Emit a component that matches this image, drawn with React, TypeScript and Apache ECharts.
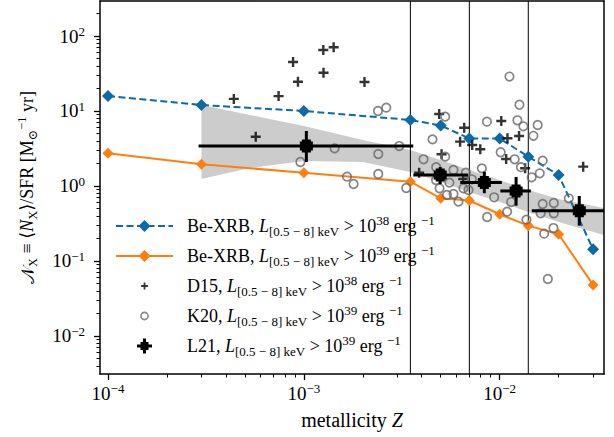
import { useEffect, useRef } from 'react';
import * as echarts from 'echarts';

// ---------- axis ranges & ticks ----------
const X_MIN = 9.1e-5;
const X_MAX = 0.0341;
const Y_MIN = 0.00311;
const Y_MAX = 293;

const majorX = [1e-4, 1e-3, 1e-2];
const minorX = [2e-4, 3e-4, 4e-4, 5e-4, 6e-4, 7e-4, 8e-4, 9e-4, 2e-3, 3e-3, 4e-3, 5e-3, 6e-3, 7e-3, 8e-3, 9e-3, 2e-2, 3e-2];
const majorY = [1e-2, 1e-1, 1, 10, 100];
const minorY = [4e-3, 5e-3, 6e-3, 7e-3, 8e-3, 9e-3, 2e-2, 3e-2, 4e-2, 5e-2, 6e-2, 7e-2, 8e-2, 9e-2, 0.2, 0.3, 0.4, 0.5, 0.6, 0.7, 0.8, 0.9, 2, 3, 4, 5, 6, 7, 8, 9, 20, 30, 40, 50, 60, 70, 80, 90, 200];

// ---------- data ----------
const modelZ = [1e-4, 3e-4, 1e-3, 3.5e-3, 5e-3, 7e-3, 1e-2, 1.4e-2, 2e-2, 3e-2];
const beXrb38 = [15.8, 12.0, 10.0, 7.6, 6.4, 4.3, 4.3, 2.46, 1.4, 0.143];
const beXrb39 = [2.73, 1.95, 1.5, 1.14, 0.685, 0.64, 0.42, 0.296, 0.227, 0.048];

const vlineZ = [0.0035, 0.007, 0.014];

const bandUpperZ = [3e-4, 1e-3, 2e-3, 3.5e-3, 5e-3, 7e-3, 1e-2, 1.4e-2, 2e-2, 0.0341];
const bandUpperN = [12.0, 6.31, 4.11, 3.02, 2.22, 1.63, 1.2, 0.885, 0.671, 0.509];
const bandLowerZ = [3e-4, 5.3e-4, 1e-3, 2e-3, 3.5e-3, 5e-3, 7e-3, 1e-2, 1.4e-2, 2e-2, 0.0341];
const bandLowerN = [1.24, 1.74, 2.15, 2.09, 1.54, 1.13, 0.832, 0.612, 0.45, 0.331, 0.222];

const d15Z = [4.39e-4, 5.68e-4, 7.43e-4, 8.81e-4, 9.33e-4, 1.257e-3, 1.42e-3, 1.26e-3, 2.04e-3, 3.88e-3, 4.91e-3, 5.05e-3, 6.59e-3, 6.28e-3, 7.24e-3, 7.96e-3, 1.019e-2, 1.096e-2, 1.256e-2, 1.079e-2, 1.349e-2, 2.67e-2, 6.51e-3];
const d15N = [14.5, 4.54, 15.8, 45, 24.6, 65, 70.7, 32.4, 24.4, 1.5, 9.12, 2.65, 5.99, 3.9, 3.52, 3.09, 7.36, 4.33, 4.64, 2.29, 1.72, 1.81, 1.24];

const k20Z = [2.391e-3, 2.636e-3, 1.436e-3, 9.6e-4, 2.399e-3, 3.07e-3, 1.661e-3, 1.795e-3, 2.399e-3, 3.334e-3, 1.122e-2, 1.262e-2, 5.27e-3, 8.61e-3, 1.232e-2, 1.322e-2, 1.563e-2, 1.487e-2, 4.54e-3, 4.085e-3, 5.27e-3, 1.012e-2, 1.193e-2, 1.284e-2, 1.658e-2, 1.602e-2, 1.457e-2, 4.74e-3, 4.73e-3, 5.81e-3, 6.72e-3, 8.11e-3, 5.54e-3, 7.21e-3, 5.38e-3, 5.81e-3, 6.16e-3, 6.53e-3, 6.93e-3, 4.93e-3, 9.37e-3, 1.092e-2, 8.63e-3, 1.37e-2, 1.658e-2, 1.89e-2, 1.619e-2, 1.89e-2, 1.687e-2, 1.882e-2, 2.254e-2, 1.762e-2, 1.145e-2];
const k20N = [10.0, 11.07, 3.18, 2.09, 2.67, 3.41, 1.33, 1.063, 1.445, 0.94, 28.8, 12.13, 8.4, 7.2, 7.52, 6.25, 6.51, 4.67, 4.19, 2.27, 2.46, 2.82, 2.27, 1.78, 2.17, 1.476, 1.306, 1.78, 1.2, 1.634, 1.504, 1.72, 1.107, 1.228, 0.759, 0.782, 0.618, 0.931, 0.884, 0.931, 0.707, 0.454, 0.386, 0.355, 0.575, 0.593, 0.4325, 0.4325, 0.231, 0.275, 0.685, 0.0575, 0.612];

const l21Z = [1.03e-3, 4.97e-3, 8.35e-3, 1.213e-2, 2.55e-2];
const l21N = [3.41, 1.4, 1.11, 0.858, 0.469];
const l21ZLo = [2.9e-4, 3.62e-3, 6.29e-3, 1.008e-2, 1.459e-2];
const l21ZHi = [3.62e-3, 6.9e-3, 1.026e-2, 1.443e-2, 0.036];
const l21NLo = [2.09, 1.06, 0.8, 0.546, 0.296];
const l21NHi = [5.41, 1.79, 1.55, 1.32, 0.736];

// ---------- styles ----------
const SERIF = "'Liberation Serif', 'DejaVu Serif', serif";
const BLUE = '#0d6aa8';
const ORANGE = '#ff7f0e';
const GRAY_BAND = '#cccccc';
const CIRCLE_GRAY = '#666666';

const PLUS_SMALL = 'path://M3.8,0H6.2V3.8H10V6.2H6.2V10H3.8V6.2H0V3.8H3.8Z';
const ICON_D15 = 'path://M0,0M15,15M6.6,4.1H8.4V6.6H10.9V8.4H8.4V10.9H6.6V8.4H4.1V6.6H6.6Z';
const ICON_K20 = 'path://M0,0M15,15M3.9,7.5A3.6,3.6,0,1,1,11.1,7.5A3.6,3.6,0,1,1,3.9,7.5Z';
const ICON_L21 = 'path://M6,0H9V3.5H11.5V6H15V9H11.5V11.5H9V15H6V11.5H3.5V9H0V6H3.5V3.5H6Z';

const legendLabels: Record<string, string> = {
  'Be-XRB38': '{g| }{n|Be-XRB, }{i|L}{sb|[0.5 − 8] keV}{n| > 10}{sp|38}{n| erg }{sp|−1}',
  'Be-XRB39': '{g| }{n|Be-XRB, }{i|L}{sb|[0.5 − 8] keV}{n| > 10}{sp|39}{n| erg }{sp|−1}',
  D15: '{g| }{n|D15, }{i|L}{sb|[0.5 − 8] keV}{n| > 10}{sp|38}{n| erg }{sp|−1}',
  K20: '{g| }{n|K20, }{i|L}{sb|[0.5 − 8] keV}{n| > 10}{sp|39}{n| erg }{sp|−1}',
  L21: '{g| }{n|L21, }{i|L}{sb|[0.5 − 8] keV}{n| > 10}{sp|39}{n| erg }{sp|−1}',
};

const tickRich = {
  b: { fontFamily: SERIF, fontSize: 19, lineHeight: 22, color: '#000' },
  s: { fontFamily: SERIF, fontSize: 13, lineHeight: 12, verticalAlign: 'top', color: '#000' },
};

const fmtPow = (v: number) => {
  const e = Math.round(Math.log10(v));
  const s = e < 0 ? '−' + -e : String(e);
  return `{b|10}{s|${s}}`;
};

function buildOption() {
  const axisLineStyle = { color: '#000', width: 1.5 };
  const baseX = { type: 'log', logBase: 10, min: X_MIN, max: X_MAX, gridIndex: 0, splitLine: { show: false }, z: 10 };
  const baseY = { type: 'log', logBase: 10, min: Y_MIN, max: Y_MAX, gridIndex: 0, splitLine: { show: false }, z: 10 };

  return {
    animation: false,
    grid: { left: 100, right: 10, top: 1, bottom: 63, containLabel: false },
    xAxis: [
      {
        ...baseX,
        position: 'bottom',
        axisLine: { show: true, onZero: false, lineStyle: axisLineStyle },
        axisTick: { show: true, customValues: majorX, length: 6, inside: false, lineStyle: { color: '#000', width: 1.3 } },
        axisLabel: { show: true, customValues: majorX, margin: 8, formatter: fmtPow, rich: tickRich },
        name: '{n|metallicity }{i|Z}',
        nameLocation: 'middle',
        nameGap: 35,
        nameTextStyle: {
          rich: {
            n: { fontFamily: SERIF, fontSize: 20, lineHeight: 22, color: '#000' },
            i: { fontFamily: SERIF, fontSize: 20, lineHeight: 22, fontStyle: 'italic', color: '#000' },
          },
        },
      },
      {
        ...baseX,
        position: 'bottom',
        axisLine: { show: false },
        axisTick: { show: true, customValues: minorX, length: 3.5, inside: false, lineStyle: { color: '#000', width: 1 } },
        axisLabel: { show: false },
      },
      {
        ...baseX,
        position: 'top',
        axisLine: { show: true, onZero: false, lineStyle: axisLineStyle },
        axisTick: { show: false },
        axisLabel: { show: false },
      },
    ],
    yAxis: [
      {
        ...baseY,
        position: 'left',
        axisLine: { show: true, onZero: false, lineStyle: axisLineStyle },
        axisTick: { show: true, customValues: majorY, length: 6, inside: false, lineStyle: { color: '#000', width: 1.3 } },
        axisLabel: { show: true, customValues: majorY, margin: 15, formatter: fmtPow, rich: tickRich },
        name: '{c|𝒩}{sb|X}{n| ≡ ⟨}{i|N}{sb|X}{n|⟩/SFR [M}{sb|⊙}{sp|−1}{n| yr]}',
        nameLocation: 'middle',
        nameRotate: 90,
        nameGap: 61,
        nameTextStyle: {
          rich: {
            c: { fontFamily: "'DejaVu Serif', serif", fontSize: 18, lineHeight: 24, color: '#000' },
            n: { fontFamily: SERIF, fontSize: 18, lineHeight: 24, color: '#000' },
            i: { fontFamily: SERIF, fontSize: 18, lineHeight: 24, fontStyle: 'italic', color: '#000' },
            sb: { fontFamily: SERIF, fontSize: 12.5, lineHeight: 16, verticalAlign: 'bottom', color: '#000' },
            sp: { fontFamily: SERIF, fontSize: 12.5, lineHeight: 12, verticalAlign: 'top', color: '#000' },
          },
        },
      },
      {
        ...baseY,
        position: 'left',
        axisLine: { show: false },
        axisTick: { show: true, customValues: minorY, length: 3.5, inside: false, lineStyle: { color: '#000', width: 1 } },
        axisLabel: { show: false },
      },
      {
        ...baseY,
        position: 'right',
        axisLine: { show: true, onZero: false, lineStyle: axisLineStyle },
        axisTick: { show: false },
        axisLabel: { show: false },
      },
    ],
    legend: {
      orient: 'vertical',
      left: 110,
      top: 209,
      padding: 5,
      itemWidth: 57,
      itemHeight: 15,
      itemGap: 6,
      selectedMode: false,
      data: [
        { name: 'Be-XRB38' },
        { name: 'Be-XRB39' },
        { name: 'D15', icon: ICON_D15, itemStyle: { color: '#000' } },
        { name: 'K20', icon: ICON_K20, itemStyle: { color: 'transparent', borderColor: CIRCLE_GRAY, borderWidth: 1.6 } },
        { name: 'L21', icon: ICON_L21, itemStyle: { color: '#000' } },
      ],
      formatter: (name: string) => legendLabels[name],
      textStyle: {
        fontFamily: SERIF,
        fontSize: 18,
        color: '#000',
        rich: {
          g: { fontFamily: SERIF, fontSize: 9, width: 9, lineHeight: 24 },
          n: { fontFamily: SERIF, fontSize: 18, lineHeight: 24, color: '#000' },
          i: { fontFamily: SERIF, fontSize: 18, lineHeight: 24, fontStyle: 'italic', color: '#000' },
          sb: { fontFamily: SERIF, fontSize: 13, lineHeight: 16, verticalAlign: 'bottom', color: '#000' },
          sp: { fontFamily: SERIF, fontSize: 13, lineHeight: 10, verticalAlign: 'top', color: '#000' },
        },
      },
    },
    series: [
      {
        type: 'custom',
        name: 'band',
        z: 1,
        silent: true,
        clip: true,
        data: [[bandUpperZ[0], bandUpperN[0]]],
        renderItem: (_params: any, api: any) => {
          const pts: number[][] = [];
          for (let i = 0; i < bandUpperZ.length; i++) pts.push(api.coord([bandUpperZ[i], bandUpperN[i]]));
          for (let i = bandLowerZ.length - 1; i >= 0; i--) pts.push(api.coord([bandLowerZ[i], bandLowerN[i]]));
          return { type: 'polygon', shape: { points: pts }, style: { fill: GRAY_BAND, stroke: 'none' } };
        },
      },
      {
        type: 'custom',
        name: 'vlines',
        z: 1.5,
        silent: true,
        clip: true,
        data: vlineZ.map((z) => [z, Y_MIN]),
        encode: { x: 0, y: 1 },
        renderItem: (params: any, api: any) => {
          const p = api.coord([api.value(0), api.value(1)]);
          const cs = params.coordSys;
          return {
            type: 'line',
            shape: { x1: p[0], y1: cs.y, x2: p[0], y2: cs.y + cs.height },
            style: { stroke: '#000', lineWidth: 1 },
          };
        },
      },
      {
        type: 'line',
        name: 'Be-XRB39',
        z: 3,
        data: modelZ.map((z, i) => [z, beXrb39[i]]),
        symbol: 'diamond',
        symbolSize: 11,
        itemStyle: { color: ORANGE },
        lineStyle: { color: ORANGE, width: 2 },
      },
      {
        type: 'line',
        name: 'Be-XRB38',
        z: 3,
        data: modelZ.map((z, i) => [z, beXrb38[i]]),
        symbol: 'diamond',
        symbolSize: 12,
        itemStyle: { color: BLUE },
        lineStyle: { color: BLUE, width: 2, type: [7, 3.5] },
      },
      {
        type: 'scatter',
        name: 'D15',
        z: 4,
        data: d15Z.map((z, i) => [z, d15N[i]]),
        symbol: PLUS_SMALL,
        symbolSize: 10,
        itemStyle: { color: '#000' },
      },
      {
        type: 'scatter',
        name: 'K20',
        z: 4,
        data: k20Z.map((z, i) => [z, k20N[i]]),
        symbol: 'circle',
        symbolSize: 8.5,
        itemStyle: { color: 'transparent', borderColor: CIRCLE_GRAY, borderWidth: 1.7 },
      },
      {
        type: 'custom',
        name: 'L21',
        z: 5,
        clip: true,
        data: l21Z.map((z, i) => [z, l21N[i], l21ZLo[i], l21ZHi[i], l21NLo[i], l21NHi[i]]),
        encode: { x: 0, y: 1 },
        itemStyle: { color: '#000' },
        renderItem: (_params: any, api: any) => {
          const c = api.coord([api.value(0), api.value(1)]);
          const xl = api.coord([api.value(2), api.value(1)]);
          const xh = api.coord([api.value(3), api.value(1)]);
          const yl = api.coord([api.value(0), api.value(4)]);
          const yh = api.coord([api.value(0), api.value(5)]);
          const a = 6.5;
          const w = 4.5;
          const [cx, cy] = c;
          const plus = [
            [cx - w, cy - a], [cx + w, cy - a], [cx + w, cy - w], [cx + a, cy - w],
            [cx + a, cy + w], [cx + w, cy + w], [cx + w, cy + a], [cx - w, cy + a],
            [cx - w, cy + w], [cx - a, cy + w], [cx - a, cy - w], [cx - w, cy - w],
          ];
          return {
            type: 'group',
            children: [
              { type: 'line', shape: { x1: xl[0], y1: cy, x2: xh[0], y2: cy }, style: { stroke: '#000', lineWidth: 3 } },
              { type: 'line', shape: { x1: cx, y1: yl[1], x2: cx, y2: yh[1] }, style: { stroke: '#000', lineWidth: 3 } },
              { type: 'polygon', shape: { points: plus }, style: { fill: '#000' } },
            ],
          };
        },
      },
    ],
  };
}

export default function App() {
  const ref = useRef<HTMLDivElement>(null);
  useEffect(() => {
    if (!ref.current) return;
    const chart = echarts.init(ref.current, null, { renderer: 'svg' });
    chart.setOption(buildOption() as any);
    return () => chart.dispose();
  }, []);
  return (
    <div
      ref={ref}
      style={{ position: 'fixed', left: 0, top: 0, width: 614, height: 437, background: '#fff' }}
    />
  );
}
